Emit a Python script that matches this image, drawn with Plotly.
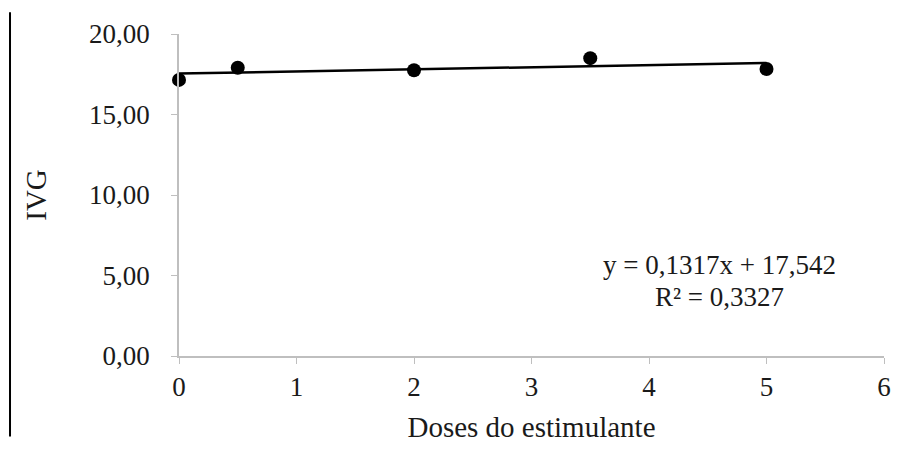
import plotly.graph_objects as go

doses = [0, 0.5, 2, 3.5, 5]
ivg = [17.15, 17.9, 17.75, 18.5, 17.83]
slope = 0.1317
intercept = 17.542
trend_x = [0, 5]
trend_y = [slope * x + intercept for x in trend_x]
y_ticks = [0, 5, 10, 15, 20]
y_tick_labels = ["0,00", "5,00", "10,00", "15,00", "20,00"]
x_ticks = [0, 1, 2, 3, 4, 5, 6]
eq_line1 = "y = 0,1317x + 17,542"
eq_line2 = "R² = 0,3327"

FONT = "Liberation Serif, Times New Roman, serif"
TXT = "#1a1a1a"

fig = go.Figure()
fig.add_trace(go.Scatter(x=trend_x, y=trend_y, mode="lines",
                         line=dict(color="black", width=2.5),
                         cliponaxis=False, showlegend=False))
fig.add_trace(go.Scatter(x=doses, y=ivg, mode="markers",
                         marker=dict(color="black", size=14),
                         cliponaxis=False, showlegend=False))

fig.add_annotation(x=0.767, y=0.284, xref="paper", yref="paper", text=eq_line1,
                   showarrow=False, xanchor="center", yanchor="middle",
                   font=dict(family=FONT, size=27, color=TXT))
fig.add_annotation(x=0.767, y=0.182, xref="paper", yref="paper", text=eq_line2,
                   showarrow=False, xanchor="center", yanchor="middle",
                   font=dict(family=FONT, size=27, color=TXT))

fig.add_shape(type="line", xref="paper", yref="paper",
              x0=-0.2397, x1=-0.2397, y0=1.0677, y1=-0.25,
              line=dict(color="black", width=2))

fig.update_layout(
    width=909, height=450,
    margin=dict(l=179, r=25, t=34, b=91),
    plot_bgcolor="white", paper_bgcolor="white",
    font=dict(family=FONT, size=27, color=TXT),
    xaxis=dict(range=[0, 6], tickvals=x_ticks, showgrid=False, zeroline=False,
               showline=True, linecolor="#bfbfbf", linewidth=1.5,
               ticks="outside", ticklen=6, tickcolor="#bfbfbf",
               tickfont=dict(size=27), ticklabelstandoff=0,
               title=dict(text="Doses do estimulante", font=dict(size=29), standoff=16)),
    yaxis=dict(range=[0, 20], tickvals=y_ticks, ticktext=y_tick_labels,
               showgrid=False, zeroline=False,
               showline=True, linecolor="#bfbfbf", linewidth=1.5,
               ticks="outside", ticklen=6, tickcolor="#bfbfbf",
               tickfont=dict(size=27), ticklabelstandoff=16,
               title=dict(text="IVG", font=dict(size=29), standoff=34)),
)

fig.write_html("out.html")
